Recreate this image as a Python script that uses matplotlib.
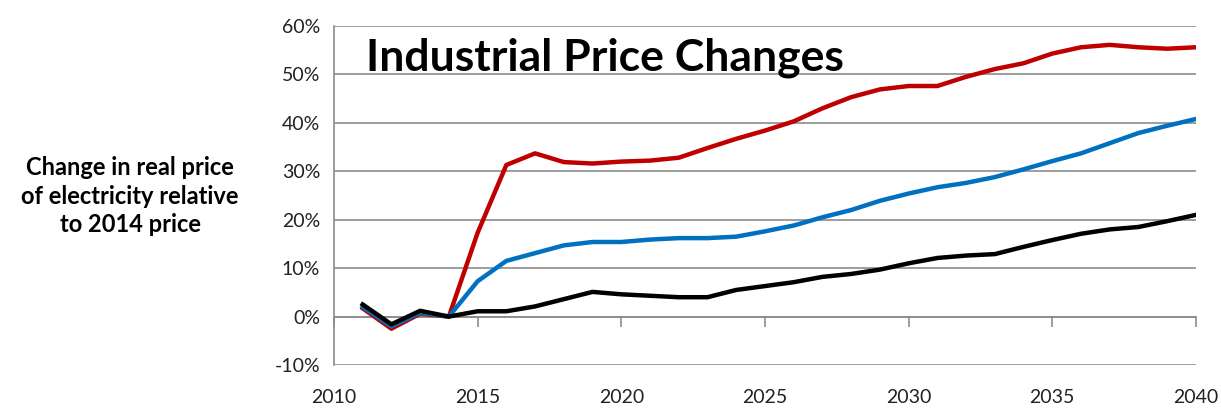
import numpy as np
import matplotlib
matplotlib.use("Agg")
import matplotlib.pyplot as plt
from matplotlib.ticker import FuncFormatter, MultipleLocator

# Data (percent change vs 2014)
years = list(range(2011, 2041))
red = [1.7, -2.5, 0.6, 0.0, 17.3, 31.3, 33.7, 31.9, 31.6, 32.0, 32.2, 32.8, 34.8, 36.7,
       38.4, 40.3, 43.0, 45.3, 46.9, 47.6, 47.6, 49.5, 51.1, 52.3, 54.3, 55.6, 56.1, 55.6,
       55.3, 55.6]
blue = [2.0, -2.0, 0.8, 0.0, 7.3, 11.5, 13.1, 14.7, 15.4, 15.4, 15.9, 16.2, 16.2, 16.5,
        17.6, 18.8, 20.5, 22.0, 23.9, 25.4, 26.7, 27.6, 28.8, 30.4, 32.1, 33.7, 35.8, 37.9,
        39.4, 40.8]
black = [2.5, -1.6, 1.2, 0.0, 1.1, 1.1, 2.1, 3.6, 5.1, 4.6, 4.3, 4.0, 4.0, 5.5,
         6.3, 7.1, 8.2, 8.8, 9.7, 11.0, 12.1, 12.6, 12.9, 14.4, 15.8, 17.1, 18.0, 18.5,
         19.7, 21.0]

title = "Industrial Price Changes"
ylabel = "Change in real price\nof electricity relative\nto 2014 price"

plt.rcParams['font.family'] = ['Lato', 'DejaVu Sans']

fig = plt.figure(figsize=(12.21, 4.12), dpi=100)
ax = fig.add_axes([0.2735, 0.114, 0.706, 0.823])

ax.plot(years, red, color='#C00000', lw=3.2, solid_joinstyle='round', zorder=3)
ax.plot(years, blue, color='#0070C0', lw=3.2, solid_joinstyle='round', zorder=4)
ax.plot(years, black, color='black', lw=3.2, solid_joinstyle='round', zorder=5)

ax.set_xlim(2010, 2040)
ax.set_ylim(-10, 60)
ax.yaxis.set_major_locator(MultipleLocator(10))
ax.xaxis.set_major_locator(MultipleLocator(5))
ax.yaxis.set_major_formatter(FuncFormatter(lambda v, p: f"{v:.0f}%"))

ax.grid(axis='y', color='#8c8c8c', lw=1.2)
ax.set_axisbelow(True)
for s in ['top', 'right']:
    ax.spines[s].set_visible(False)
ax.spines['left'].set_color('#8c8c8c')
ax.spines['left'].set_linewidth(1.2)
ax.spines['bottom'].set_position(('data', 0))
ax.spines['bottom'].set_color('#8c8c8c')
ax.spines['bottom'].set_linewidth(1.2)

ax.tick_params(axis='y', length=0, pad=10, labelsize=14, labelcolor='#222222')
ax.tick_params(axis='x', length=7, width=1.2, color='#8c8c8c', direction='out',
               pad=45, labelsize=14, labelcolor='#222222')

ax.text(2011.1, 50.9, title, fontsize=32, fontweight='bold', va='baseline', ha='left')

fig.text(0.1065, 0.524, ylabel, fontsize=17, fontweight='bold', ha='center', va='center',
         linespacing=1.3)

fig.savefig("out.png", dpi=100)
